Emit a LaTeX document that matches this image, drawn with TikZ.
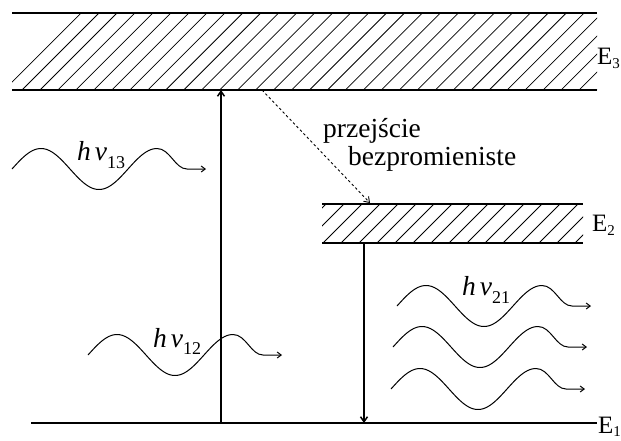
\documentclass[tikz,border=0pt]{standalone}
\usepackage{fontspec}
\setmainfont{Liberation Serif}
\usetikzlibrary{arrows.meta}
\newcommand{\wavephoton}[2]{%
  \draw[wavestyle] plot[domain=0:145,samples=70] ({#1+\x},{#2-20.5*sin(3.10345*\x)})
    .. controls ({#1+158},{#2-20.5}) and ({#1+163},{#2}) .. ({#1+175},{#2}) -- ({#1+194},{#2});}
\begin{document}
\begin{tikzpicture}[x=1pt,y=-1pt,
  band/.style={line width=1.6pt},
  hatch/.style={line width=0.75pt},
  level/.style={line width=1.6pt},
  trans/.style={line width=1.5pt,-{Straight Barb[length=5pt,width=7pt]}},
  wavestyle/.style={line width=1pt,-{Straight Barb[length=4pt,width=6pt]}},
  lbl/.style={inner sep=0pt,anchor=base west,font=\fontsize{27.5}{30}\selectfont},
  elbl/.style={inner sep=0pt,anchor=base west,font=\fontsize{25}{30}\selectfont}]
\useasboundingbox (0,0) rectangle (621,440);
\fill[white] (0,0) rectangle (621,440);

% E3 band
\begin{scope}
  \clip (12,13) rectangle (597,90);
  \foreach \k in {-1,...,33} \draw[hatch] ({22+17.97*\k},90) -- ++(77,-77);
\end{scope}
\coordinate (E3bl) at (12,90);
\coordinate (E3br) at (597,90);
\draw[band] (12,13) -- (597,13);
\draw[band] (E3bl) -- (E3br);

% E2 band
\begin{scope}
  \clip (322,204) rectangle (583,243);
  \foreach \k in {-3,...,15} \draw[hatch] ({323+18*\k},243) -- ++(39,-39);
\end{scope}
\draw[band] (322,204) -- (583,204);
\draw[band] (322,243) -- (583,243);

% E1 level
\coordinate (E1l) at (31,423);
\coordinate (E1r) at (597,423);
\draw[level] (E1l) -- (E1r);

% transitions
\coordinate (up0) at (221,423);
\coordinate (up1) at (221,90);
\draw[trans] (up0) -- (up1);
\coordinate (dn0) at (364,243);
\coordinate (dn1) at (364,423);
\draw[trans] (dn0) -- (dn1);
\coordinate (nr0) at (262,90);
\coordinate (nr1) at (370,203);
\draw[line width=0.9pt,dash pattern=on 2.5pt off 2.5pt,-{Straight Barb[length=5pt,width=7pt]}] (nr0) -- (nr1);

% photons
\wavephoton{12}{169}
\wavephoton{88}{355}
\wavephoton{397}{306}
\wavephoton{393}{347}
\wavephoton{391}{389}

% labels
\node[elbl] (E3) at (597,64) {E\raisebox{-4pt}{\fontsize{15}{15}\selectfont 3}};
\node[elbl] (E2) at (592,231) {E\raisebox{-4pt}{\fontsize{15}{15}\selectfont 2}};
\node[elbl] (E1) at (598,433) {E\raisebox{-3pt}{\fontsize{15}{15}\selectfont 1}};
\node[lbl] (t1) at (323,137) {przejście};
\node[lbl] (t2) at (348,165) {bezpromieniste};
\node[lbl] (h13) at (77,160) {\itshape h\hspace{4pt}ν\raisebox{-8pt}{\upshape\fontsize{18}{18}\selectfont 13}};
\node[lbl] (h12) at (153,347) {\itshape h\hspace{4pt}ν\raisebox{-7pt}{\upshape\fontsize{18}{18}\selectfont 12}};
\node[lbl] (h21) at (462,295) {\itshape h\hspace{4pt}ν\raisebox{-8pt}{\upshape\fontsize{18}{18}\selectfont 21}};
\end{tikzpicture}
\end{document}
